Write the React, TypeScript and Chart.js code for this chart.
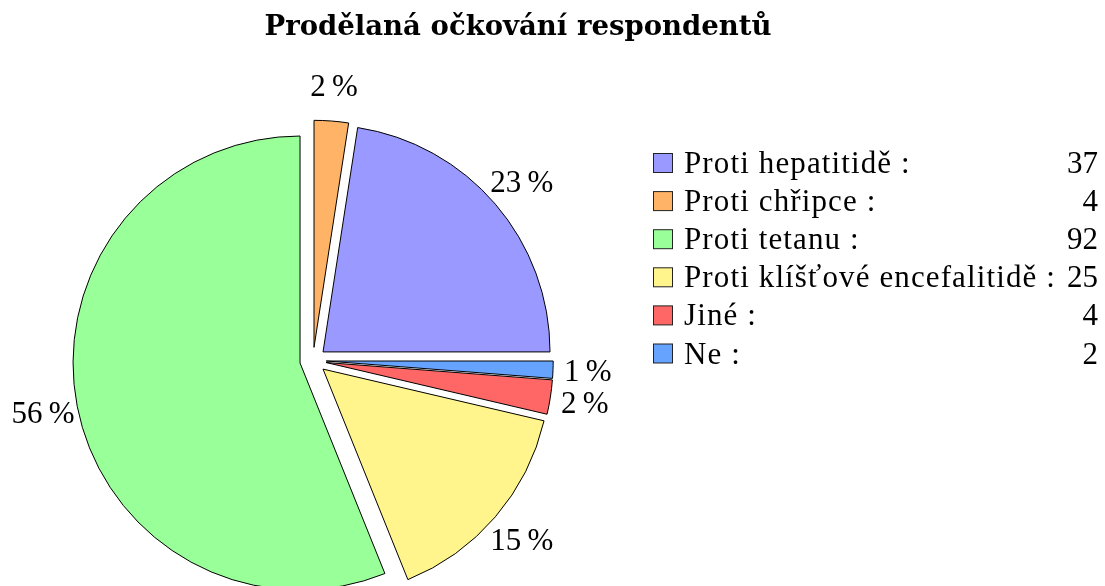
import React, { useEffect, useRef } from "react";
import { Chart, registerables } from "chart.js";

Chart.register(...registerables);

const chartTitle = "Prodělaná očkování respondentů";
const categories = [
  "Proti hepatitidě",
  "Proti chřipce",
  "Proti tetanu",
  "Proti klíšťové encefalitidě",
  "Jiné",
  "Ne",
];
const counts = [37, 4, 92, 25, 4, 2];
const sliceColors = ["#9999ff", "#ffb366", "#99ff99", "#fff58c", "#ff6666", "#66a3ff"];

const W = 1105;
const H = 700;
const CX = 313;
const CY = 360.5;
const R = 227;
const EXPLODE = 13.2;
const LABEL_R = 275;
const SERIF = "'Liberation Serif', 'Times New Roman', serif";
const TITLE_FONT = "'DejaVu Serif', 'Liberation Serif', serif";

export default function App() {
  const ref = useRef<HTMLCanvasElement>(null);

  useEffect(() => {
    const canvas = ref.current;
    if (!canvas) return;
    // pie is drawn counter-clockwise from east in the reference -> reverse for Chart.js (clockwise)
    const data = counts.slice().reverse();
    const bg = sliceColors.slice().reverse();
    const total = counts.reduce((a, b) => a + b, 0);
    const side = 2 * R + 1;

    const explodePlugin = {
      id: "explode",
      afterDatasetUpdate(chart: any, args: any) {
        const meta = chart.getDatasetMeta(args.index);
        meta.data.forEach((el: any) => {
          const mid = (el.startAngle + el.endAngle) / 2;
          el.x += Math.cos(mid) * EXPLODE;
          el.y += Math.sin(mid) * EXPLODE;
        });
      },
    };

    const labelsPlugin = {
      id: "pieLabels",
      afterDatasetsDraw(chart: any) {
        const ctx = chart.ctx;
        const meta = chart.getDatasetMeta(0);
        const ca = chart.chartArea;
        const cx = (ca.left + ca.right) / 2;
        const cy = (ca.top + ca.bottom) / 2;
        ctx.save();
        ctx.fillStyle = "#000";
        ctx.font = `31px ${SERIF}`;
        ctx.textAlign = "center";
        ctx.textBaseline = "middle";
        meta.data.forEach((el: any, i: number) => {
          const mid = (el.startAngle + el.endAngle) / 2;
          const pct = Math.round((data[i] / total) * 100);
          ctx.fillText(`${pct}\u2009%`, cx + Math.cos(mid) * LABEL_R, cy + Math.sin(mid) * LABEL_R + 2);
        });
        ctx.restore();
      },
      afterDraw(chart: any) {
        const ctx = chart.ctx;
        ctx.save();
        // title, fitted to the reference width
        ctx.fillStyle = "#000";
        ctx.textAlign = "center";
        ctx.textBaseline = "alphabetic";
        const target = 507;
        ctx.font = `bold 25px ${TITLE_FONT}`;
        const w0 = ctx.measureText(chartTitle).width;
        const size = Math.max(20, Math.min(30, (25 * target) / w0));
        ctx.font = `bold ${size.toFixed(2)}px ${TITLE_FONT}`;
        ctx.fillText(chartTitle, 518, 35);
        // legend
        ctx.font = `31px ${SERIF}`;
        const longest = `${categories[3]} :`;
        const lw = ctx.measureText(longest).width;
        const spacing = Math.max(0, (372 - lw) / longest.length);
        categories.forEach((name, i) => {
          const top = 153 + i * 38.1;
          ctx.fillStyle = sliceColors[i];
          ctx.fillRect(653.5, top + 0.5, 19, 19);
          ctx.strokeStyle = "#222";
          ctx.lineWidth = 1;
          ctx.strokeRect(653.5, top + 0.5, 19, 19);
          ctx.fillStyle = "#000";
          ctx.textAlign = "left";
          (ctx as any).letterSpacing = `${spacing.toFixed(2)}px`;
          ctx.fillText(`${name} :`, 684, top + 20);
          (ctx as any).letterSpacing = "0px";
          ctx.textAlign = "right";
          ctx.fillText(String(counts[i]), 1098, top + 20);
        });
        ctx.restore();
      },
    };

    const chart = new Chart(canvas, {
      type: "pie",
      data: {
        labels: categories.slice().reverse(),
        datasets: [
          {
            data,
            backgroundColor: bg,
            borderColor: "#000",
            borderWidth: 1,
            hoverBorderWidth: 1,
            offset: 0,
            hoverOffset: 0,
            borderJoinStyle: "miter",
          } as any,
        ],
      },
      options: {
        responsive: false,
        animation: false,
        events: [],
        rotation: 90,
        layout: {
          padding: {
            left: CX - side / 2,
            right: W - CX - side / 2,
            top: CY - side / 2,
            bottom: H - CY - side / 2,
          },
        },
        plugins: {
          legend: { display: false },
          title: { display: false },
          tooltip: { enabled: false },
        },
      },
      plugins: [explodePlugin, labelsPlugin],
    });
    return () => chart.destroy();
  }, []);

  return (
    <div
      style={{
        position: "absolute",
        left: 0,
        top: 0,
        width: W,
        height: 586,
        overflow: "hidden",
        background: "#fff",
      }}
    >
      <canvas ref={ref} width={W} height={H} style={{ display: "block" }} />
    </div>
  );
}
